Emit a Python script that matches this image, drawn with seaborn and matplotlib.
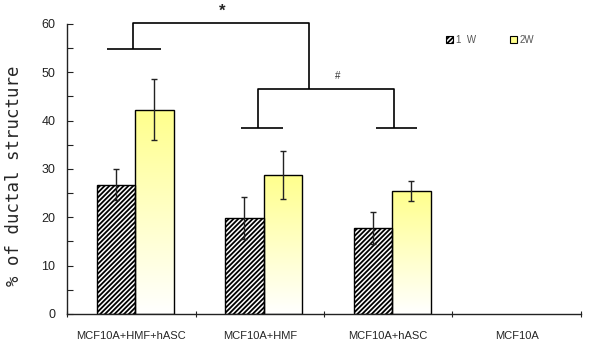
import matplotlib
matplotlib.use("Agg")
import matplotlib.pyplot as plt
from matplotlib.patches import Patch
from matplotlib.ticker import MultipleLocator, FixedLocator, NullFormatter
import seaborn as sns
import numpy as np
import pandas as pd

# values
groups = ["MCF10A+HMF+hASC", "MCF10A+HMF", "MCF10A+hASC", "MCF10A"]
weeks = ["1  W", "2W"]
week1 = [26.7, 19.9, 17.7, 0.0]
week1_err = [3.2, 4.4, 3.3, 0.0]
week2 = [42.3, 28.8, 25.5, 0.0]
week2_err = [6.3, 5.0, 2.1, 0.0]

yellow = "#ffff8c"
hatch = "///////"

df = pd.DataFrame({
    "group": groups * 2,
    "week": [weeks[0]] * 4 + [weeks[1]] * 4,
    "value": week1 + week2,
})

sns.set_style("white")
plt.rcParams["font.family"] = ["Liberation Sans", "DejaVu Sans"]
plt.rcParams["hatch.linewidth"] = 1.3

fig = plt.figure(figsize=(6.01, 3.42), dpi=100)
ax = fig.add_axes([0.1115, 0.0819, 0.8552, 0.8481])

sns.barplot(data=df, x="group", y="value", hue="week", order=groups,
            hue_order=weeks, width=0.6, ax=ax, legend=False,
            errorbar=None, edgecolor="black", linewidth=1.0)

shift = 0.03
errs = [week1_err, week2_err]
bar_sets = list(ax.containers)
for i, cont in enumerate(bar_sets):
    xs, hs = [], []
    for bar in cont.patches:
        bar.set_x(bar.get_x() + shift)
        xs.append(bar.get_x() + bar.get_width() / 2)
        hs.append(bar.get_height())
        if bar.get_height() <= 0:
            bar.set_visible(False)
            continue
        if i == 0:
            bar.set_facecolor("white")
            bar.set_hatch(hatch)
        else:
            bar.set_facecolor("none")
            h = bar.get_height()
            grad = np.linspace(1, 0, 256).reshape(-1, 1)
            cmap = matplotlib.colors.LinearSegmentedColormap.from_list(
                "yw", ["white", yellow])
            im = ax.imshow(grad, cmap=cmap, aspect="auto",
                           extent=[bar.get_x(), bar.get_x() + bar.get_width(), 0, h],
                           zorder=bar.get_zorder() - 0.1)
            im.set_clip_path(bar)
    xs, hs, ee = np.array(xs), np.array(hs), np.array(errs[i])
    keep = hs > 0
    ax.errorbar(xs[keep], hs[keep], yerr=ee[keep], fmt="none", ecolor="#222222",
                elinewidth=1.0, capsize=2.5, capthick=1.0, zorder=5)

ax.set_xlim(-0.5, 3.5)
ax.set_ylim(0, 60)
ax.set_xlabel("")
ax.set_ylabel("% of ductal structure", family="DejaVu Sans Mono", fontsize=12.5)
ax.yaxis.set_label_coords(-0.085, 0.476)

sns.despine(ax=ax)
for s in ["left", "bottom"]:
    ax.spines[s].set_color("#222222")
    ax.spines[s].set_linewidth(1.0)

ax.yaxis.set_major_locator(MultipleLocator(10))
ax.yaxis.set_minor_locator(MultipleLocator(5))
ax.tick_params(axis="y", which="both", direction="in", length=4, width=0.8,
               left=True, labelsize=9, colors="#222222", pad=8.5)
ax.tick_params(axis="x", which="major", length=0, labelsize=8, pad=12)
ax.xaxis.set_minor_locator(FixedLocator([-0.5, 0.5, 1.5, 2.5, 3.5]))
ax.xaxis.set_minor_formatter(NullFormatter())
ax.tick_params(axis="x", which="minor", direction="inout", length=5, width=0.8,
               bottom=True, colors="#222222")

# significance brackets
lk = dict(color="black", lw=1.2, clip_on=False, solid_capstyle="butt")
ax.plot([-0.19, 0.23], [54.8, 54.8], **lk)
ax.plot([0.01, 0.01, 1.383, 1.383], [54.8, 60.2, 60.2, 46.6], **lk)
ax.plot([0.854, 1.18], [38.5, 38.5], **lk)
ax.plot([1.905, 2.224], [38.5, 38.5], **lk)
ax.plot([0.986, 0.986, 2.045, 2.045], [38.5, 46.6, 46.6, 38.5], **lk)
ax.text(0.706, 62.6, "*", fontsize=12, fontweight="bold", ha="center", va="center")
ax.text(1.609, 49.2, "#", fontsize=7, ha="center", va="center", color="#333333")

handles = [Patch(facecolor="white", edgecolor="black", hatch=hatch, lw=0.8),
           Patch(facecolor=yellow, edgecolor="black", lw=0.8)]
ax.legend(handles, weeks, ncol=2, frameon=False, loc="center left",
          bbox_to_anchor=(0.72, 0.945), fontsize=7, handlelength=0.7,
          handleheight=0.7, handletextpad=0.3, columnspacing=3.5,
          labelcolor="#555555")

fig.savefig("out.png", dpi=100)
